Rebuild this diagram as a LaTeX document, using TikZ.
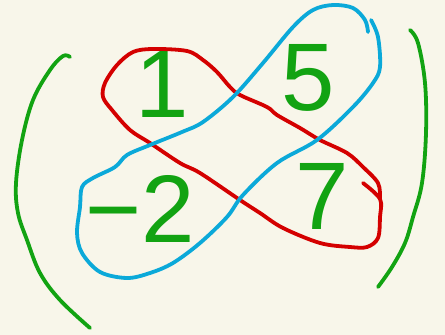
\documentclass[tikz,border=0pt]{standalone}
\usepackage{fontspec}
\setmainfont{Liberation Sans}
\usepackage{xcolor}
\usepackage{tikz}
\definecolor{paper}{HTML}{F8F6EA}
\definecolor{inkgreen}{HTML}{12A312}
\definecolor{inkred}{HTML}{D40000}
\definecolor{inkblue}{HTML}{0BA9D9}
\tikzset{
    every picture/.style={line cap=round,line join=round},
    pen/.style={line width=3.8pt},
    redloop/.style={pen,draw=inkred},
    blueloop/.style={pen,draw=inkblue},
    bracket/.style={pen,draw=inkgreen},
    entry/.style={text=inkgreen,inner sep=0pt,font=\fontsize{96}{96}\selectfont}
}
\begin{document}
\begin{tikzpicture}[x=1pt,y=-1pt]
  \fill[paper] (0,0) rectangle (445,335);
  % brackets of the matrix
  \draw[bracket] plot[smooth,tension=0.6] coordinates {(70,57) (63,56) (50,70) (33,100) (22,140) (16,183) (18,213) (27,240) (40,273) (60,300) (90,328)};
  \draw[bracket] plot[smooth,tension=0.6] coordinates {(410,30) (418,43) (425,83) (426,133) (422,183) (413,217) (405,243) (392,267) (378,287)};
  % entries
  \node[entry] (e11) at (162,84) {1};
  \node[entry] (e12) at (308,78) {5};
  \node[entry] (e21) at (140,209) {−2};
  \node[entry] (e22) at (322,196) {7};
  % loop round the main diagonal
  \draw[redloop] plot[smooth,tension=0.55] coordinates {(363,183) (380,199) (380,217) (378,238) (367,247) (350,247) (320,243) (283,228) (260,213) (240,200) (200,173) (180,163) (150,143) (130,130) (112,110) (103,97) (105,83) (117,65) (133,52) (153,49) (187,51) (203,60) (217,72) (230,87) (240,95) (267,107) (277,115) (300,128) (320,140) (347,153) (363,167) (378,183) (380,198)};
  % loop round the other diagonal
  \draw[blueloop] plot[smooth,tension=0.55] coordinates {(371,20) (378,37) (380,67) (373,83) (353,107) (317,140) (277,163) (243,195) (227,217) (200,243) (173,263) (150,273) (127,278) (100,272) (82,253) (77,233) (80,207) (82,187) (93,178) (115,167) (127,155) (150,145) (182,132) (203,122) (233,97) (263,63) (293,27) (313,10) (333,5) (353,8) (365,20) (368,32)};
\end{tikzpicture}
\end{document}
